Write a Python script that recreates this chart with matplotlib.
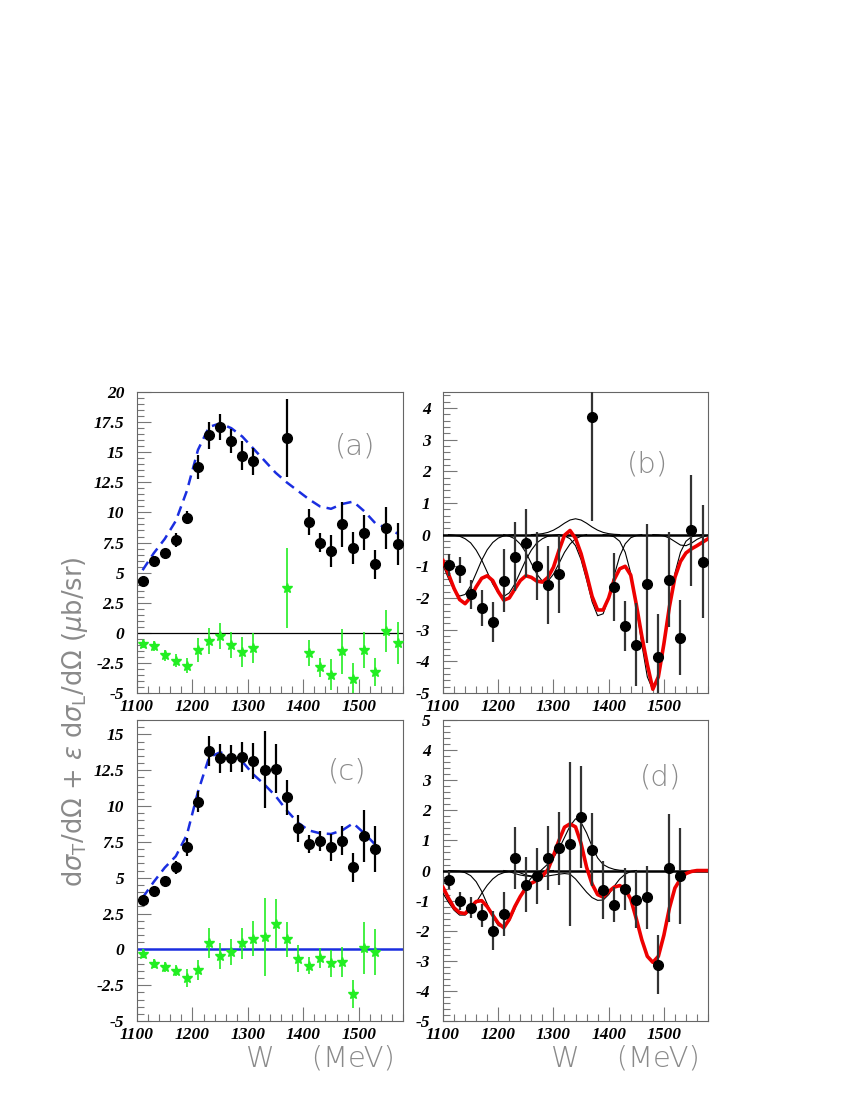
# -*- coding: utf-8 -*-
"""
Cross sections vs W, four panels (a)-(d).
"""

import numpy as np
import matplotlib
matplotlib.use('Agg')
import matplotlib.pyplot as plt
from matplotlib.ticker import MultipleLocator, FuncFormatter

# ---- data -------------------------------------------------------------
# panel (a) / (b): measured points
w_ab = [1110, 1130, 1150, 1170, 1190, 1210, 1230, 1250, 1270, 1290, 1310,
        1370, 1410, 1430, 1450, 1470, 1490, 1510, 1530, 1550, 1570]
sig_a = [4.3, 6.0, 6.6, 7.7, 9.55, 13.8, 16.4, 17.1, 15.95, 14.7, 14.25,
         16.2, 9.2, 7.5, 6.8, 9.0, 7.05, 8.3, 5.7, 8.7, 7.35]
err_a = [0.3, 0.4, 0.4, 0.6, 0.55, 1.0, 1.1, 1.1, 1.0, 1.2, 1.1,
         3.25, 1.05, 0.8, 1.3, 1.9, 1.3, 1.45, 1.2, 1.75, 1.75]
sig_b = [-0.95, -1.11, -1.88, -2.31, -2.75, -1.45, -0.70, -0.26, -1.00, -1.60, -1.25,
         3.72, -1.65, -2.88, -3.47, -1.55, -3.85, -1.42, -3.25, 0.14, -0.85]
err_b = [0.35, 0.41, 0.46, 0.57, 0.63, 1.0, 1.09, 1.08, 1.07, 1.23, 1.23,
         3.3, 1.07, 0.79, 1.31, 1.88, 1.33, 1.5, 1.18, 1.75, 1.77]

# panel (c) / (d): measured points
w_cd = [1110, 1130, 1150, 1170, 1190, 1210, 1230, 1250, 1270, 1290, 1310,
        1330, 1350, 1370, 1390, 1410, 1430, 1450, 1470, 1490, 1510, 1530]
sig_c = [3.41, 4.04, 4.8, 5.73, 7.12, 10.3, 13.85, 13.34, 13.34, 13.43, 13.15,
         12.53, 12.62, 10.6, 8.45, 7.35, 7.59, 7.12, 7.59, 5.73, 7.93, 7.0]
err_c = [0.2, 0.25, 0.3, 0.45, 0.63, 0.73, 1.04, 1.0, 0.94, 1.04, 1.23,
         2.7, 1.7, 1.23, 0.93, 0.63, 0.7, 0.95, 1.04, 1.0, 1.8, 1.58]
sig_d = [-0.3, -1.0, -1.24, -1.48, -2.0, -1.44, 0.42, -0.47, -0.19, 0.42, 0.74,
         0.89, 1.78, 0.69, -0.64, -1.13, -0.61, -0.97, -0.89, -3.13, 0.09, -0.19]
err_d = [0.3, 0.3, 0.35, 0.38, 0.64, 0.72, 1.04, 0.92, 0.93, 1.07, 1.22,
         2.72, 1.7, 1.22, 0.96, 0.58, 0.7, 0.94, 1.04, 0.98, 1.8, 1.6]

# model curves (blue dashed) for (a) and (c)
w_model_a = [1110, 1130, 1150, 1170, 1190, 1210, 1230, 1250, 1270, 1290, 1310, 1330,
             1350, 1370, 1390, 1410, 1430, 1450, 1470, 1490, 1510, 1530, 1550, 1570]
model_a = [5.2, 6.6, 7.8, 9.3, 11.8, 15.2, 17.1, 17.4, 17.0, 16.3, 15.3, 14.3,
           13.3, 12.5, 11.8, 11.1, 10.5, 10.3, 10.7, 10.9, 10.1, 9.1, 8.7, 8.25]
w_model_c = [1110, 1130, 1150, 1170, 1190, 1210, 1230, 1250, 1270, 1290, 1310,
             1330, 1350, 1370, 1390, 1410, 1430, 1450, 1470, 1490, 1510, 1530]
model_c = [3.6, 4.7, 5.7, 6.5, 8.0, 11.0, 13.4, 13.75, 13.5, 13.1, 12.2,
           11.5, 10.7, 9.7, 8.85, 8.3, 8.1, 8.05, 8.3, 8.8, 8.1, 7.3]

# fit curves (red) for (b) and (d), 10 MeV steps 1100..1580
w_fit = list(range(1100, 1590, 10))
fit_b = [-0.82, -1.25, -1.70, -2.05, -2.18, -1.98, -1.65, -1.38, -1.30, -1.45,
         -1.80, -2.07, -2.00, -1.72, -1.45, -1.30, -1.35, -1.47, -1.50, -1.35,
         -1.03, -0.50, -0.02, 0.13, -0.12, -0.60, -1.25, -1.95, -2.38, -2.38,
         -2.00, -1.42, -1.08, -1.00, -1.28, -2.20, -3.20, -4.10, -4.88, -4.49,
         -3.45, -2.28, -1.35, -0.85, -0.58, -0.45, -0.35, -0.24, -0.13]
fit_d = [-0.56, -0.92, -1.24, -1.40, -1.43, -1.22, -1.03, -1.00, -1.20, -1.48,
         -1.75, -1.90, -1.62, -1.20, -0.86, -0.58, -0.42, -0.33, -0.18, 0.03,
         0.50, 1.00, 1.44, 1.55, 1.45, 0.90, 0.11, -0.45, -0.80, -0.88,
         -0.70, -0.55, -0.50, -0.62, -0.95, -1.60, -2.30, -2.85, -3.05, -2.85,
         -2.15, -1.25, -0.58, -0.28, -0.10, -0.03, 0.0, 0.0, 0.0]

# individual contributions (thin black) for (b)
w_b1 = [1100, 1110, 1120, 1130, 1140, 1150, 1160, 1170, 1180, 1190, 1200, 1210, 1220, 1230]
b1 = [-0.97, -1.39, -1.75, -1.94, -1.89, -1.62, -1.22, -0.81, -0.48, -0.25, -0.11, -0.04, -0.01, 0.0]
w_b2 = [1110, 1120, 1130, 1140, 1150, 1160, 1170, 1180, 1190, 1200, 1210, 1220,
        1230, 1240, 1250, 1260, 1270, 1280, 1290, 1300, 1310]
b2 = [0.0, -0.02, -0.05, -0.13, -0.26, -0.49, -0.80, -1.18, -1.56, -1.84, -1.95, -1.84,
      -1.56, -1.18, -0.80, -0.49, -0.26, -0.13, -0.05, -0.02, 0.0]
w_b3 = [1210, 1220, 1230, 1240, 1250, 1260, 1270, 1280, 1290, 1300, 1310, 1320, 1330, 1340, 1350, 1360]
b3 = [0.0, -0.05, -0.13, -0.30, -0.56, -0.91, -1.25, -1.47, -1.47, -1.25, -0.91, -0.56, -0.30, -0.13, -0.05, 0.0]
w_b4 = [1260, 1270, 1280, 1290, 1300, 1310, 1320, 1330, 1340, 1350, 1360, 1370, 1380, 1390, 1400, 1410, 1420]
b4 = [0.0, 0.01, 0.03, 0.07, 0.14, 0.24, 0.36, 0.46, 0.5, 0.46, 0.36, 0.24, 0.14, 0.07, 0.03, 0.01, 0.0]
w_b5 = [1310, 1320, 1330, 1340, 1350, 1360, 1370, 1380, 1390, 1400, 1410, 1420, 1430, 1440, 1450, 1460]
b5 = [0.0, -0.04, -0.13, -0.35, -0.79, -1.43, -2.12, -2.56, -2.50, -2.00, -1.29, -0.68, -0.29, -0.10, -0.03, 0.0]
w_b6 = [1390, 1400, 1410, 1420, 1430, 1440, 1450, 1460, 1470, 1480, 1490, 1500,
        1510, 1520, 1530, 1540, 1550, 1560, 1570]
b6 = [0.0, -0.02, -0.07, -0.21, -0.56, -1.22, -2.24, -3.46, -4.49, -4.9, -4.49, -3.46,
      -2.24, -1.22, -0.56, -0.21, -0.07, -0.02, 0.0]
w_b7 = [1480, 1490, 1500, 1510, 1520, 1530, 1540, 1550, 1560, 1570, 1580]
b7 = [0.0, -0.01, -0.04, -0.11, -0.22, -0.33, -0.35, -0.27, -0.15, -0.07, -0.02]

# individual contributions (thin black) for (d)
w_d1 = [1100, 1110, 1120, 1130, 1140, 1150, 1160, 1170, 1180, 1190, 1200, 1210, 1220, 1230]
d1 = [-0.76, -1.06, -1.32, -1.48, -1.48, -1.32, -1.06, -0.76, -0.49, -0.28, -0.14, -0.07, -0.03, 0.0]
w_d2 = [1110, 1120, 1130, 1140, 1150, 1160, 1170, 1180, 1190, 1200, 1210, 1220,
        1230, 1240, 1250, 1260, 1270, 1280, 1290, 1300]
d2 = [0.0, -0.01, -0.02, -0.07, -0.17, -0.37, -0.69, -1.11, -1.53, -1.83, -1.89, -1.68,
      -1.28, -0.85, -0.48, -0.24, -0.10, -0.04, -0.01, 0.0]
w_d3 = [1230, 1240, 1250, 1260, 1270, 1280, 1290, 1300, 1310, 1320, 1330, 1340,
        1350, 1360, 1370, 1380, 1390, 1400, 1410, 1420, 1430]
d3 = [0.0, -0.08, -0.15, -0.18, -0.12, 0.05, 0.22, 0.42, 0.72, 1.1, 1.48, 1.72,
      1.6, 1.25, 0.8, 0.42, 0.2, 0.1, 0.04, 0.01, 0.0]
w_d4 = [1210, 1220, 1230, 1240, 1250, 1260, 1270, 1280, 1290, 1300, 1310, 1320, 1330,
        1340, 1350, 1360, 1370, 1380, 1390, 1400, 1410, 1420, 1430, 1440, 1450]
d4 = [0.0, -0.03, -0.1, -0.15, -0.18, -0.2, -0.2, -0.2, -0.18, -0.15, -0.12, -0.1, -0.12,
      -0.28, -0.5, -0.72, -0.9, -0.99, -0.98, -0.8, -0.52, -0.28, -0.12, -0.03, 0.0]

# ---- styling ----------------------------------------------------------
plt.rcParams['mathtext.fontset'] = 'dejavusans'
tick_font = dict(family='Liberation Serif', weight='bold', style='italic', size=12.5)
label_col = '#8a8a8a'
green = '#22ee22'

fig = plt.figure(figsize=(8.5, 11), dpi=100)
axa = fig.add_axes([0.1612, 0.370, 0.313, 0.2736])
axb = fig.add_axes([0.5212, 0.370, 0.3118, 0.2736])
axc = fig.add_axes([0.1612, 0.0718, 0.313, 0.2736])
axd = fig.add_axes([0.5212, 0.0718, 0.3118, 0.2736])

fmt = FuncFormatter(lambda v, pos: '%g' % round(v, 2))


def style(ax, ylim, major, minor, tag, tagpos):
    ax.set_xlim(1100, 1580)
    ax.set_ylim(*ylim)
    ax.xaxis.set_major_locator(MultipleLocator(100))
    ax.xaxis.set_minor_locator(MultipleLocator(20))
    ax.yaxis.set_major_locator(MultipleLocator(major))
    ax.yaxis.set_minor_locator(MultipleLocator(minor))
    ax.yaxis.set_major_formatter(fmt)
    ax.xaxis.set_major_formatter(FuncFormatter(
        lambda v, pos: '%d' % v if v < 1550 else ''))
    ax.tick_params(which='both', direction='in', top=False, right=False,
                   color='#777777', width=0.8)
    ax.tick_params(which='major', length=10)
    ax.tick_params(which='minor', length=5)
    ax.tick_params(axis='y', pad=9)
    ax.tick_params(axis='x', pad=4)
    for lab in ax.get_xticklabels() + ax.get_yticklabels():
        lab.set_fontproperties(matplotlib.font_manager.FontProperties(**tick_font))
    for s in ax.spines.values():
        s.set_color('#666666')
        s.set_linewidth(0.8)
    ax.text(tagpos[0], tagpos[1], tag, transform=ax.transAxes, fontsize=21,
            color=label_col, ha='center', va='center', fontweight='light')


def points(ax, x, y, e, color='black', ecol='black'):
    ax.errorbar(x, y, yerr=e, fmt='o', ms=7, color=color, ecolor=ecol,
                elinewidth=1.6, capsize=0, zorder=5)


def stars(ax, x, y, e):
    ax.errorbar(x, y, yerr=e, fmt='*', ms=7, color=green, ecolor=green,
                elinewidth=1.2, capsize=0, zorder=4)


# (a)
axa.axhline(0, color='black', lw=0.9)
axa.plot(w_model_a, model_a, color='#1a2ee0', lw=1.8, ls=(0, (4, 2.5)))
points(axa, w_ab, sig_a, err_a)
stars(axa, w_ab, sig_b, err_b)
style(axa, (-5, 20), 2.5, 0.5, '(a)', (0.82, 0.82))

# (b)
axb.axhline(0, color='black', lw=1.8, zorder=3)
for wx, wy in [(w_b1, b1), (w_b2, b2), (w_b3, b3), (w_b4, b4),
               (w_b5, b5), (w_b6, b6), (w_b7, b7)]:
    axb.plot(wx, wy, color='black', lw=0.8, zorder=3)
axb.plot(w_fit, fit_b, color='#ee0000', lw=2.6, zorder=4,
         solid_joinstyle='round')
points(axb, w_ab, sig_b, err_b, ecol='#333333')
style(axb, (-5, 4.5), 1, 0.2, '(b)', (0.77, 0.76))

# (c)
axc.axhline(0, color='#1a2ee0', lw=1.8)
axc.plot(w_model_c, model_c, color='#1a2ee0', lw=1.8, ls=(0, (4, 2.5)))
points(axc, w_cd, sig_c, err_c)
stars(axc, w_cd, sig_d, err_d)
style(axc, (-5, 16), 2.5, 0.5, '(c)', (0.79, 0.83))

# (d)
axd.axhline(0, color='black', lw=1.8, zorder=3)
for wx, wy in [(w_d1, d1), (w_d2, d2), (w_d3, d3), (w_d4, d4)]:
    axd.plot(wx, wy, color='black', lw=0.8, zorder=3)
axd.plot(w_fit, fit_d, color='#ee0000', lw=2.6, zorder=4,
         solid_joinstyle='round')
points(axd, w_cd, sig_d, err_d, ecol='#333333')
style(axd, (-5, 5), 1, 0.2, '(d)', (0.82, 0.81))

# axis titles
for ax in (axc, axd):
    ax.text(0.97, -0.125, 'W    (MeV)', transform=ax.transAxes, fontsize=21,
            color=label_col, ha='right', va='center', fontweight='light')

fig.text(0.088, 0.344,
         r'd$\sigma_{\rm T}$/d$\Omega$ + $\varepsilon$ d$\sigma_{\rm L}$/d$\Omega$ ($\mu$b/sr)',
         rotation=90, fontsize=18.5, color=label_col, ha='center', va='center')

fig.savefig('out.png', dpi=100)
